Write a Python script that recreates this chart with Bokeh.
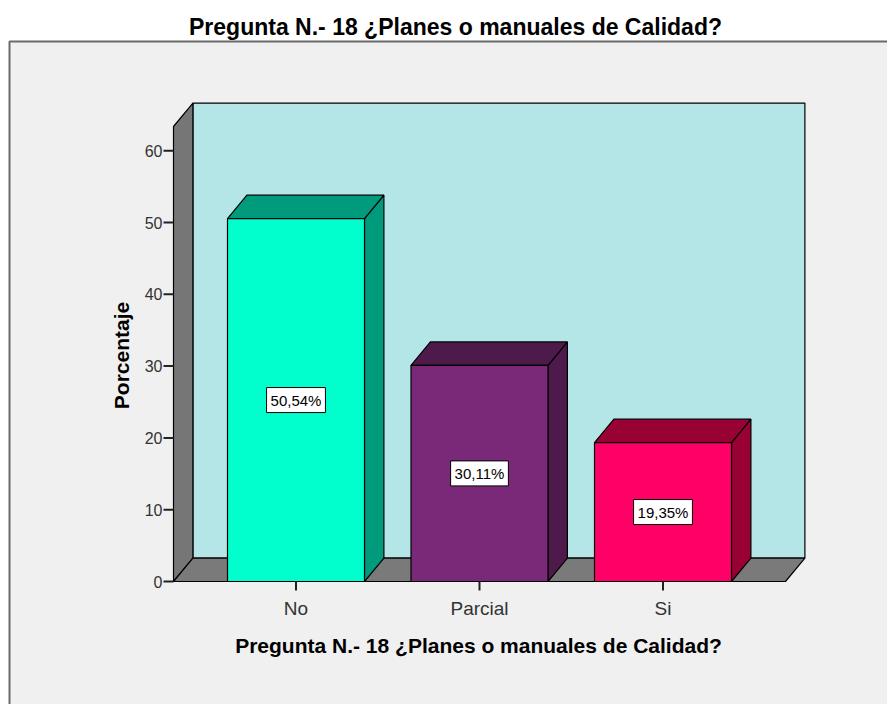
import numpy as np
from bokeh.plotting import figure
from bokeh.models import ColumnDataSource
from bokeh.core.properties import value
from bokeh.embed import file_html
from bokeh.resources import INLINE

# ---------------- data ----------------
categories = ["No", "Parcial", "Si"]
percentages = [50.54, 30.11, 19.35]
y_ticks = [0, 10, 20, 30, 40, 50, 60]
title_text = "Pregunta N.- 18 ¿Planes o manuales de Calidad?"
x_label = "Pregunta N.- 18 ¿Planes o manuales de Calidad?"
y_label = "Porcentaje"

front_colors = ["#00ffcc", "#7a2878", "#ff0066"]
shade_colors = ["#009a7c", "#4e1a4c", "#990033"]

# ---------------- layout (page pixels -> data) ----------------
W, H = 887, 704
OFF = 0
PX_PER_CAT = 183.5
PX_PER_PCT = 7.18
CAT0_PX = 295.5
ZERO_PX = 581.0

def X(px):
    return (px - CAT0_PX) / PX_PER_CAT

def Y(py):
    return (ZERO_PX - py) / PX_PER_PCT

FONT = "Liberation Sans"

p = figure(width=W, height=H, output_backend="svg", toolbar_location=None,
           x_range=(X(OFF), X(OFF + W)), y_range=(Y(OFF + H), Y(OFF)),
           x_axis_type=None, y_axis_type=None, min_border=0,
           background_fill_color="white", border_fill_color="white",
           outline_line_color=None)
p.grid.visible = False

# outer panel
p.quad(left=[X(9)], right=[X(940)], top=[Y(41)], bottom=[Y(760)],
       fill_color="#f0f0f0", line_color="#6a6a6a", line_width=2)

# 3D box geometry
xl, xr = X(173), X(785)
dx = 19.4 / PX_PER_CAT
dy = 23.4 / PX_PER_PCT
ymax = Y(126)
edge = dict(line_color="black", line_width=1.2)

# back wall
p.patch([xl + dx, xr + dx, xr + dx, xl + dx], [dy, dy, ymax + dy, ymax + dy],
        fill_color="#b4e6e8", **edge)
# left wall
p.patch([xl, xl + dx, xl + dx, xl], [0, dy, ymax + dy, ymax],
        fill_color="#767676", **edge)
# floor
p.patch([xl, xr, xr + dx, xl + dx], [0, 0, dy, dy],
        fill_color="#7a7a7a", **edge)

# bars
hw = 68.5 / PX_PER_CAT
xs = np.arange(len(categories), dtype=float)
vals = np.array(percentages)
side_x, side_y, top_x, top_y = [], [], [], []
for c, v in zip(xs, vals):
    side_x.append([c + hw, c + hw + dx, c + hw + dx, c + hw])
    side_y.append([0, dy, v + dy, v])
    top_x.append([c - hw, c + hw, c + hw + dx, c - hw + dx])
    top_y.append([v, v, v + dy, v + dy])
p.patches(side_x, side_y, fill_color=shade_colors, **edge)
p.patches(top_x, top_y, fill_color=shade_colors, **edge)
p.quad(left=xs - hw, right=xs + hw, bottom=0, top=vals,
       fill_color=front_colors, **edge)

# percentage labels
lab_src = ColumnDataSource(dict(
    x=xs, y=vals / 2,
    t=[("%.2f%%" % v).replace(".", ",") for v in percentages]))
p.text(x="x", y="y", text="t", source=lab_src,
       text_align="center", text_baseline="middle",
       text_font=value(FONT), text_font_size="15px", text_color="black",
       background_fill_color="white", border_line_color="black",
       border_line_width=1, padding=4)

# y ticks
yt = np.array(y_ticks, dtype=float)
p.segment(x0=[X(163)] * len(yt), y0=yt, x1=[xl] * len(yt), y1=yt,
          line_color="#222222", line_width=2)
p.text(x=[X(162)] * len(yt), y=yt, text=[str(t) for t in y_ticks],
       text_align="right", text_baseline="middle",
       text_font=value(FONT), text_font_size="16px", text_color="#333333")

# x ticks
p.segment(x0=xs, y0=[0] * len(xs), x1=xs, y1=[Y(590)] * len(xs),
          line_color="#222222", line_width=2)
p.text(x=xs, y=[Y(608)] * len(xs), text=categories,
       text_align="center", text_baseline="middle",
       text_font=value(FONT), text_font_size="19px", text_color="#333333")

# axis labels and title
p.text(x=[X(478)], y=[Y(645)], text=[x_label], text_align="center",
       text_baseline="middle", text_font=value(FONT), text_font_size="21px",
       text_font_style="bold", text_color="black")
p.text(x=[X(121)], y=[Y(355)], text=[y_label], angle=np.pi / 2,
       text_align="center", text_baseline="middle", text_font=value(FONT),
       text_font_size="21px", text_font_style="bold", text_color="black")
p.text(x=[X(455)], y=[Y(26)], text=[title_text], text_align="center",
       text_baseline="middle", text_font=value(FONT), text_font_size="23px",
       text_font_style="bold", text_color="black")

open("out.html", "w").write(file_html(p, INLINE))
